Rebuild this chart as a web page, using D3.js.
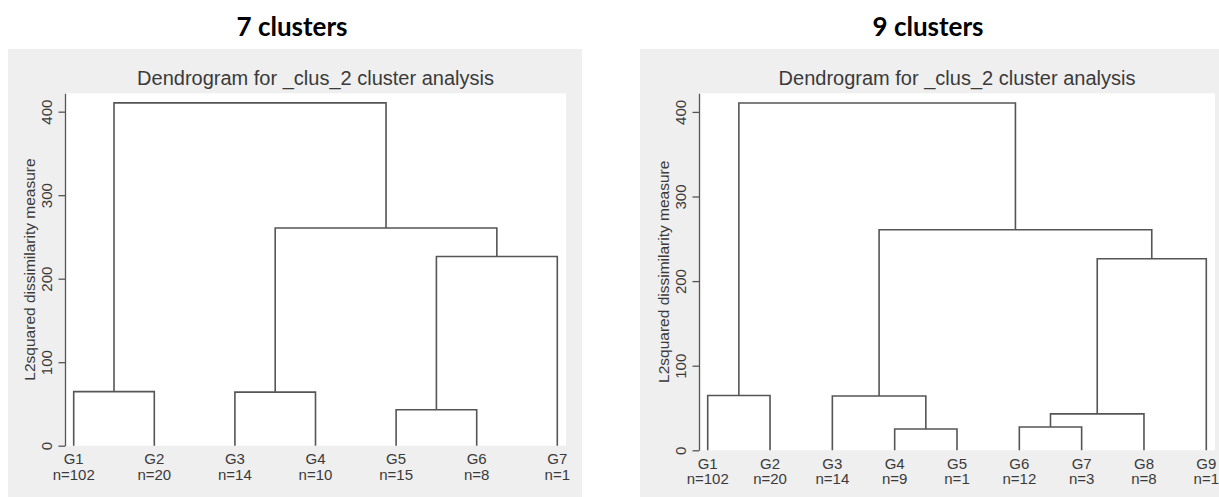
<!DOCTYPE html>
<html>
<head>
<meta charset="utf-8">
<script src="https://cdn.jsdelivr.net/npm/d3@7"></script>
<style>
  body { margin: 0; background: #fff; }
  svg { display: block; }
  text { font-family: "Liberation Sans", Arial, sans-serif; fill: #3a3a3a; }
  .hdr { font-family: Lato, "Open Sans", sans-serif; font-weight: 700; fill: #000; }
</style>
</head>
<body>
<svg id="chart" width="1219" height="497"></svg>
<script>
// ---- data ----
var yTicks = [0, 100, 200, 300, 400],
    yMax = 422;

// 7 cluster solution
var leaves7 = ["G1", "G2", "G3", "G4", "G5", "G6", "G7"],
    sizes7 = [102, 20, 14, 10, 15, 8, 1],
    // merge k joins node a[k] and b[k]; ids >= leaves.length are earlier merges
    mergeA7 = [0, 2, 4, 9, 8, 7],
    mergeB7 = [1, 3, 5, 6, 10, 11],
    mergeH7 = [64.8, 64.2, 43, 226.5, 260.7, 410.5];

// 9 cluster solution
var leaves9 = ["G1", "G2", "G3", "G4", "G5", "G6", "G7", "G8", "G9"],
    sizes9 = [102, 20, 14, 9, 1, 12, 3, 8, 1],
    mergeA9 = [0, 3, 2, 5, 12, 13, 11, 9],
    mergeB9 = [1, 4, 10, 6, 7, 8, 14, 15],
    mergeH9 = [64.8, 25.2, 64.2, 27.5, 43, 226.5, 260.7, 410.5];

var titleText = "Dendrogram for _clus_2 cluster analysis",
    yTitle = "L2squared dissimilarity measure";

var svg = d3.select("#chart");

// layout of each panel
var panels = [
    { header: "7 clusters", leaves: leaves7, sizes: sizes7, a: mergeA7, b: mergeB7, h: mergeH7,
      gx0: 8, gx1: 582, px0: 65, px1: 566, py0: 93.3, py1: 445.7 },
    { header: "9 clusters", leaves: leaves9, sizes: sizes9, a: mergeA9, b: mergeB9, h: mergeH9,
      gx0: 640, gx1: 1222, px0: 699, px1: 1215, py0: 93.3, py1: 450.3 }
];

panels.forEach(drawPanel);

function drawPanel(p) {
    var g = svg.append("g");

    // header above the graph box
    g.append("text").attr("class", "hdr")
        .attr("x", (p.gx0 + p.gx1) / 2 - 3).attr("y", 36)
        .attr("text-anchor", "middle").style("font-size", "26px")
        .text(p.header);

    // graph region and plot region
    g.append("rect").attr("x", p.gx0).attr("y", 49)
        .attr("width", p.gx1 - p.gx0).attr("height", 497 - 49).attr("fill", "#efefef");
    g.append("rect").attr("x", p.px0).attr("y", p.py0)
        .attr("width", p.px1 - p.px0).attr("height", p.py1 - p.py0).attr("fill", "#fff");

    g.append("text")
        .attr("x", (p.px0 + p.px1) / 2).attr("y", 85)
        .attr("text-anchor", "middle").style("font-size", "20px")
        .text(titleText);

    var x = d3.scalePoint().domain(p.leaves).range([p.px0 + 8.7, p.px1 - 8.7]),
        y = d3.scaleLinear().domain([0, yMax]).range([p.py1, p.py0]);

    // y axis with vertical tick labels
    var ax = g.append("g").attr("transform", "translate(" + p.px0 + ",0)")
        .call(d3.axisLeft(y).tickValues(yTicks).tickSize(6.5).tickSizeOuter(0));
    ax.select(".domain").attr("stroke", "#555").attr("stroke-width", 1.3);
    ax.selectAll(".tick line").attr("stroke", "#555").attr("stroke-width", 1.3);
    ax.selectAll(".tick text")
        .attr("transform", "rotate(-90)")
        .attr("x", 0).attr("y", -13.5).attr("dy", 0)
        .attr("text-anchor", "middle")
        .style("font-size", "15px").style("font-family", null).attr("fill", "#3a3a3a");

    g.append("text")
        .attr("transform", "translate(" + (p.px0 - 30) + "," + ((p.py0 + p.py1) / 2) + ") rotate(-90)")
        .attr("text-anchor", "middle").style("font-size", "15.5px")
        .text(yTitle);

    // node positions: leaves first, then merges in order
    var n = p.leaves.length,
        nodeX = p.leaves.map(function (d) { return x(d); }),
        nodeH = p.leaves.map(function () { return 0; }),
        links = [];
    p.h.forEach(function (hv, k) {
        var ia = p.a[k], ib = p.b[k];
        links.push({ xa: nodeX[ia], ha: nodeH[ia], xb: nodeX[ib], hb: nodeH[ib], h: hv });
        nodeX[n + k] = (nodeX[ia] + nodeX[ib]) / 2;
        nodeH[n + k] = hv;
    });

    g.append("g").selectAll("path").data(links).join("path")
        .attr("d", function (d) {
            return "M" + d.xa + "," + y(d.ha) + "V" + y(d.h) + "H" + d.xb + "V" + y(d.hb);
        })
        .attr("fill", "none").attr("stroke", "#555").attr("stroke-width", 1.6);

    // leaf labels
    var lab = g.append("g").selectAll("g").data(p.leaves).join("g")
        .attr("transform", function (d) { return "translate(" + x(d) + "," + p.py1 + ")"; });
    lab.append("text").attr("y", 18.6).attr("text-anchor", "middle")
        .style("font-size", "15px").text(function (d) { return d; });
    lab.append("text").attr("y", 33.9).attr("text-anchor", "middle")
        .style("font-size", "15px").text(function (d, i) { return "n=" + p.sizes[i]; });
}
</script>
</body>
</html>
